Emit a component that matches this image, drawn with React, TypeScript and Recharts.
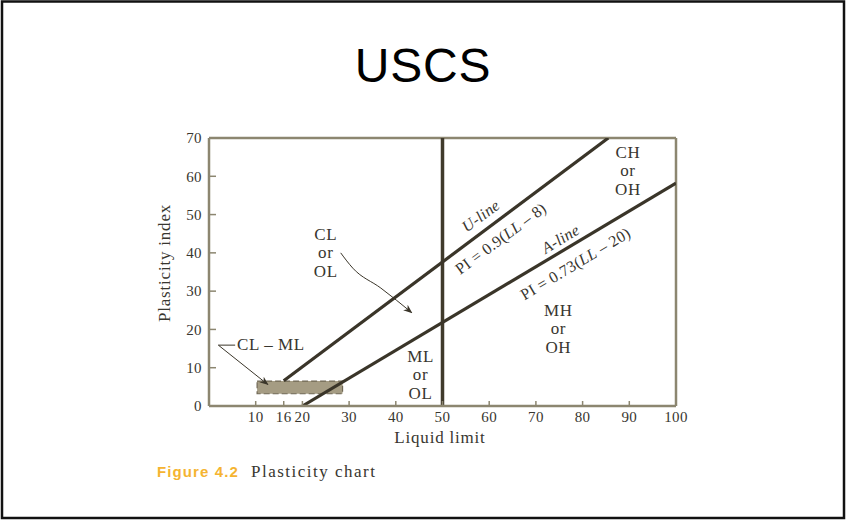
import React from 'react';
import {
  ComposedChart,
  Line,
  XAxis,
  YAxis,
  ReferenceLine,
  ReferenceArea,
  ReferenceDot,
} from 'recharts';

// ---- data ----
const X_TICKS = [10, 16, 20, 30, 40, 50, 60, 70, 80, 90, 100];
const Y_TICKS = [0, 10, 20, 30, 40, 50, 60, 70];
const X_DOMAIN = [0, 100];
const Y_DOMAIN = [0, 70];

const U_LINE = [
  { x: 16, y: 6.6 },
  { x: 85.5, y: 70 },
];
const A_LINE = [
  { x: 20, y: 0 },
  { x: 100, y: 58.2 },
];
const LL_DIVIDE = 50;
const CLML_BOX = { x1: 10.3, x2: 28.6, y1: 3.2, y2: 6.5 };
const CLML_LEADER = [
  { x: 5.6, y: 15.9 },
  { x: 2.0, y: 15.9 },
  { x: 12.6, y: 5.6 },
];
const CLOL_ARROW = [
  { x: 28.2, y: 40.0 },
  { x: 30.8, y: 36.0 },
  { x: 36.8, y: 30.8 },
  { x: 43.4, y: 24.4 },
];

const ZONE_LABELS = [
  { id: 'clol', lines: ['CL', 'or', 'OL'], x: 25.0, y: 38.6 },
  { id: 'choh', lines: ['CH', 'or', 'OH'], x: 89.7, y: 60.1 },
  { id: 'mhoh', lines: ['MH', 'or', 'OH'], x: 74.8, y: 18.8 },
  { id: 'mlol', lines: ['ML', 'or', 'OL'], x: 45.3, y: 6.8 },
];
const CLML_LABEL = { text: 'CL \u2013 ML', x: 6.0, y: 14.6 };

const LINE_LABELS = [
  { id: 'u1', parts: [{ t: 'U-line', i: true }], x: 58.1, y: 49.8, angle: -36.4 },
  {
    id: 'u2',
    parts: [
      { t: 'PI = 0.9(', i: false },
      { t: 'LL', i: true },
      { t: ' \u2013 8)', i: false },
    ],
    x: 62.4,
    y: 43.9,
    angle: -36.4,
  },
  { id: 'a1', parts: [{ t: 'A-line', i: true }], x: 75.2, y: 43.8, angle: -31 },
  {
    id: 'a2',
    parts: [
      { t: 'PI = 0.73(', i: false },
      { t: 'LL', i: true },
      { t: ' \u2013 20)', i: false },
    ],
    x: 78.4,
    y: 37.3,
    angle: -31,
  },
];

// ---- style ----
const FRAME = '#8c8670';
const INK = '#3a3529';
const TEXT = '#38362f';
const SERIF = '"Liberation Serif", "DejaVu Serif", serif';
const SANS = '"Liberation Sans", Arial, sans-serif';
const LINE_OFFS = [-18, 0, 19];

const ZoneShape = (lines: string[]) => (p: any) => (
  <g>
    {lines.map((s, i) => (
      <text
        key={i}
        x={p.cx}
        y={p.cy + LINE_OFFS[i]}
        textAnchor="middle"
        fontFamily={SERIF}
        fontSize={17}
        fill={TEXT}
        letterSpacing={0.6}
      >
        {s}
      </text>
    ))}
  </g>
);

const RotShape = (parts: { t: string; i: boolean }[], angle: number) => (p: any) => (
  <text
    x={p.cx}
    y={p.cy}
    textAnchor="middle"
    dominantBaseline="central"
    fontFamily={SERIF}
    fontSize={16}
    fill={TEXT}
    letterSpacing={0.3}
    transform={`rotate(${angle} ${p.cx} ${p.cy})`}
  >
    {parts.map((pt, k) => (
      <tspan key={k} fontStyle={pt.i ? 'italic' : 'normal'}>
        {pt.t}
      </tspan>
    ))}
  </text>
);

const ClmlShape = (p: any) => (
  <text x={p.cx} y={p.cy} fontFamily={SERIF} fontSize={17} fill={TEXT} letterSpacing={0.6}>
    {CLML_LABEL.text}
  </text>
);

const tickStyle = { fontSize: 15, fill: TEXT, fontFamily: SERIF, letterSpacing: 0.4 };

export default function App() {
  return (
    <div
      style={{
        position: 'absolute',
        left: 0,
        top: 0,
        width: 847,
        height: 521,
        background: '#ffffff',
        overflow: 'hidden',
      }}
    >
      <svg
        width={847}
        height={521}
        style={{ position: 'absolute', left: 0, top: 0 }}
      >
        <defs>
          <marker
            id="arrowHead"
            viewBox="0 0 10 10"
            refX="9"
            refY="5"
            markerWidth="9"
            markerHeight="9"
            markerUnits="userSpaceOnUse"
            orient="auto"
          >
            <path d="M0,1 L10,5 L0,9 L3,5 Z" fill={INK} />
          </marker>
        </defs>
        <rect x={2} y={1.5} width={842} height={516.5} fill="none" stroke="#111" strokeWidth={2.5} />
        <text x={423} y={82} textAnchor="middle" fontFamily={SANS} fontSize={48} fill="#000" letterSpacing={0.8}>
          USCS
        </text>
        <text
          x={0}
          y={0}
          textAnchor="middle"
          fontFamily={SERIF}
          fontSize={17}
          fill={TEXT}
          letterSpacing={0.8}
          transform="translate(170 263) rotate(-90)"
        >
          Plasticity index
        </text>
        <text x={440} y={443} textAnchor="middle" fontFamily={SERIF} fontSize={17} fill={TEXT} letterSpacing={0.8}>
          Liquid limit
        </text>
        <text x={157} y={477} fontFamily={SANS} fontWeight="bold" fontSize={15} fill="#f5b431" letterSpacing={1.1}>
          Figure 4.2
        </text>
        <text x={251} y={477} fontFamily={SERIF} fontSize={17} fill={TEXT} letterSpacing={1.5}>
          Plasticity chart
        </text>
      </svg>
      <div style={{ position: 'absolute', left: 0, top: 0 }}>
        <ComposedChart
          width={847}
          height={521}
          margin={{ top: 138, right: 171, bottom: 85, left: 150 }}
        >
          <XAxis
            type="number"
            dataKey="x"
            domain={X_DOMAIN}
            ticks={X_TICKS}
            allowDataOverflow
            height={30}
            tickSize={-5}
            tickMargin={10}
            interval={0}
            axisLine={{ stroke: FRAME, strokeWidth: 2.5 }}
            tickLine={{ stroke: FRAME, strokeWidth: 1.5 }}
            tick={tickStyle}
          />
          <YAxis
            type="number"
            dataKey="y"
            domain={Y_DOMAIN}
            ticks={Y_TICKS}
            allowDataOverflow
            width={59}
            tickSize={-7}
            tickMargin={14}
            interval={0}
            axisLine={{ stroke: FRAME, strokeWidth: 2.5 }}
            tickLine={{ stroke: FRAME, strokeWidth: 1.5 }}
            tick={tickStyle}
          />
          <ReferenceLine y={70} stroke={FRAME} strokeWidth={2.5} ifOverflow="visible" />
          <ReferenceLine x={100} stroke={FRAME} strokeWidth={2.5} ifOverflow="visible" />
          <ReferenceArea
            x1={CLML_BOX.x1}
            x2={CLML_BOX.x2}
            y1={CLML_BOX.y1}
            y2={CLML_BOX.y2}
            fill="#a59c83"
            fillOpacity={1}
            stroke="#6f6754"
            strokeWidth={1.2}
            strokeDasharray="6 3"
          />
          <ReferenceLine x={LL_DIVIDE} stroke="#403b2c" strokeWidth={3.5} />
          <Line
            data={U_LINE}
            dataKey="y"
            stroke={INK}
            strokeWidth={3.2}
            dot={false}
            activeDot={false}
            isAnimationActive={false}
          />
          <Line
            data={A_LINE}
            dataKey="y"
            stroke={INK}
            strokeWidth={3.2}
            dot={false}
            activeDot={false}
            isAnimationActive={false}
          />
          <Line
            data={CLML_LEADER}
            dataKey="y"
            type="linear"
            stroke={INK}
            strokeWidth={1}
            dot={false}
            activeDot={false}
            isAnimationActive={false}
            markerEnd="url(#arrowHead)"
          />
          <Line
            data={CLOL_ARROW}
            dataKey="y"
            type="monotoneX"
            stroke={INK}
            strokeWidth={1}
            dot={false}
            activeDot={false}
            isAnimationActive={false}
            markerEnd="url(#arrowHead)"
          />
          {ZONE_LABELS.map((z) => (
            <ReferenceDot key={z.id} x={z.x} y={z.y} r={1} shape={ZoneShape(z.lines)} />
          ))}
          <ReferenceDot x={CLML_LABEL.x} y={CLML_LABEL.y} r={1} shape={ClmlShape} />
          {LINE_LABELS.map((l) => (
            <ReferenceDot key={l.id} x={l.x} y={l.y} r={1} shape={RotShape(l.parts, l.angle)} />
          ))}
        </ComposedChart>
      </div>
    </div>
  );
}
